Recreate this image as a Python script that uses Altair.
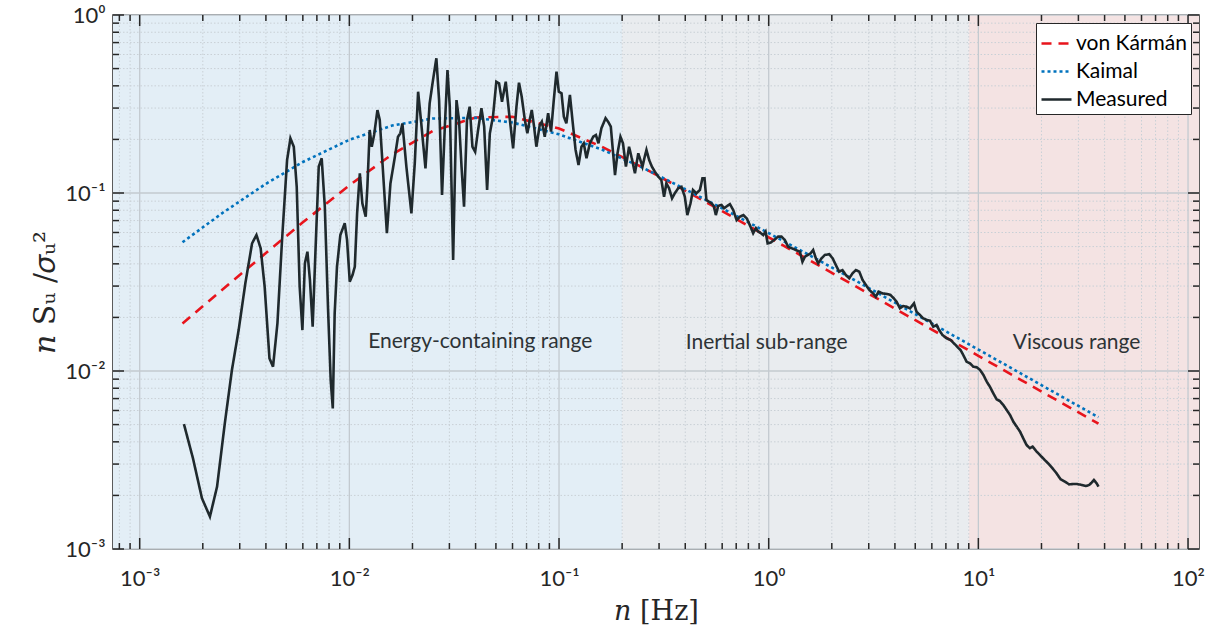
import altair as alt
import pandas as pd

# ---------------- data ----------------
model_n = [0.0016, 0.0025, 0.004, 0.006, 0.01, 0.016, 0.025, 0.04, 0.06, 0.1, 0.16,
           0.25, 0.4, 0.6, 1.0, 1.6, 2.5, 4.0, 6.0, 10.0, 16.0, 25.0, 37.4]
von_karman = [0.0185, 0.0289, 0.0460, 0.0684, 0.1105, 0.1649, 0.2228, 0.2657, 0.2680,
              0.2305, 0.1819, 0.1393, 0.1032, 0.0791, 0.0564, 0.0413, 0.0307, 0.0224,
              0.0171, 0.01217, 0.0089, 0.00661, 0.00506]
kaimal = [0.0529, 0.0777, 0.1126, 0.1493, 0.1991, 0.2392, 0.2621, 0.2643, 0.2487,
          0.2137, 0.1755, 0.139, 0.105, 0.082, 0.0595, 0.0441, 0.0330, 0.0242,
          0.0185, 0.0132, 0.00966, 0.00718, 0.0055]

# measured spectrum, read as decimal exponents (log10 n, log10 nS/sigma^2)
measured_log10_n = [
    -2.789, -2.746, -2.703, -2.665, -2.631, -2.594, -2.560, -2.528, -2.496, -2.464,
    -2.443, -2.423, -2.404, -2.381, -2.364, -2.343, -2.321, -2.297, -2.281, -2.265,
    -2.251, -2.237, -2.224, -2.212, -2.200, -2.188, -2.175, -2.162, -2.146, -2.132,
    -2.117, -2.102, -2.089, -2.079, -2.070, -2.059, -2.043, -2.022, -2.011, -1.998,
    -1.985, -1.974, -1.963, -1.950, -1.938, -1.922, -1.914, -1.903, -1.893, -1.882,
    -1.866, -1.855, -1.839, -1.821, -1.804, -1.784, -1.768, -1.757, -1.747, -1.728,
    -1.704, -1.688, -1.672, -1.657, -1.637, -1.617, -1.601, -1.585, -1.572, -1.558,
    -1.544, -1.532, -1.521, -1.505, -1.489, -1.477, -1.465, -1.453, -1.439, -1.426,
    -1.413, -1.400, -1.386, -1.370, -1.357, -1.343, -1.330, -1.315, -1.299, -1.286,
    -1.272, -1.254, -1.238, -1.219, -1.203, -1.191, -1.178, -1.163, -1.151, -1.140,
    -1.130, -1.119, -1.108, -1.092, -1.082, -1.068, -1.052, -1.038, -1.025, -1.012,
    -1.001, -0.988, -0.977, -0.965, -0.948, -0.936, -0.921, -0.907, -0.893, -0.882,
    -0.869, -0.853, -0.837, -0.824, -0.812, -0.798, -0.778, -0.766, -0.753, -0.742,
    -0.733, -0.721, -0.707, -0.695, -0.681, -0.666, -0.653, -0.638, -0.622, -0.602,
    -0.593, -0.583, -0.570, -0.557, -0.543, -0.527, -0.512, -0.499, -0.488, -0.475,
    -0.461, -0.448, -0.432, -0.416, -0.400, -0.388, -0.373, -0.361, -0.345, -0.328,
    -0.316, -0.306, -0.297, -0.285, -0.273, -0.262, -0.252, -0.241, -0.225, -0.213,
    -0.198, -0.185, -0.169, -0.153, -0.137, -0.121, -0.105, -0.090, -0.074, -0.061,
    -0.050, -0.037, -0.026, -0.015, -0.005, 0.009, 0.026, 0.045, 0.061, 0.077,
    0.093, 0.109, 0.125, 0.149, 0.161, 0.173, 0.188, 0.200, 0.212, 0.225,
    0.236, 0.252, 0.268, 0.289, 0.305, 0.320, 0.336, 0.352, 0.368, 0.384,
    0.400, 0.416, 0.432, 0.448, 0.464, 0.480, 0.498, 0.511, 0.524, 0.543,
    0.562, 0.581, 0.597, 0.610, 0.626, 0.641, 0.658, 0.674, 0.693, 0.705,
    0.721, 0.737, 0.753, 0.769, 0.785, 0.801, 0.813, 0.829, 0.848, 0.868,
    0.888, 0.904, 0.915, 0.928, 0.944, 0.960, 0.976, 0.992, 1.008, 1.024,
    1.040, 1.055, 1.071, 1.087, 1.103, 1.119, 1.135, 1.151, 1.167, 1.183,
    1.199, 1.214, 1.230, 1.246, 1.259, 1.278, 1.294, 1.313, 1.333, 1.354,
    1.373, 1.392, 1.413, 1.433, 1.452, 1.471, 1.492, 1.513, 1.529, 1.540,
    1.551, 1.564, 1.573]
measured_log10_S = [
    -2.298, -2.490, -2.715, -2.818, -2.650, -2.294, -1.994, -1.770, -1.507, -1.283,
    -1.236, -1.311, -1.526, -1.929, -1.976, -1.732, -1.264, -0.815, -0.693, -0.740,
    -0.965, -1.526, -1.770, -1.395, -1.330, -1.489, -1.751, -1.339, -0.852, -0.805,
    -1.077, -1.639, -2.051, -2.210, -1.676, -1.414, -1.236, -1.170, -1.264, -1.498,
    -1.461, -1.414, -1.114, -0.889, -1.058, -1.133, -0.965, -0.646, -0.740, -0.674,
    -0.534, -0.590, -0.889, -1.226, -0.946, -0.805, -0.684, -0.665, -0.609, -0.852,
    -1.114, -0.833, -0.431, -0.609, -0.862, -0.496, -0.365, -0.243, -0.478, -1.011,
    -0.609, -0.309, -0.515, -1.376, -0.478, -0.590, -0.852, -1.077, -0.590, -0.515,
    -0.740, -0.768, -0.646, -0.524, -0.627, -0.983, -0.665, -0.571, -0.375, -0.384,
    -0.487, -0.375, -0.552, -0.749, -0.515, -0.380, -0.459, -0.590, -0.665, -0.590,
    -0.534, -0.627, -0.740, -0.618, -0.599, -0.684, -0.552, -0.655, -0.478, -0.318,
    -0.431, -0.440, -0.571, -0.609, -0.449, -0.590, -0.758, -0.843, -0.740, -0.721,
    -0.805, -0.721, -0.684, -0.674, -0.721, -0.637, -0.580, -0.599, -0.627, -0.777,
    -0.899, -0.777, -0.684, -0.721, -0.852, -0.740, -0.805, -0.889, -0.777, -0.852,
    -0.805, -0.758, -0.815, -0.852, -0.880, -0.908, -0.927, -1.021, -0.946, -0.974,
    -1.030, -1.002, -0.974, -0.965, -1.021, -1.124, -1.058, -0.983, -1.002, -0.983,
    -0.917, -0.917, -1.039, -1.049, -1.058, -1.073, -1.124, -1.073, -1.067, -1.086,
    -1.073, -1.062, -1.096, -1.152, -1.133, -1.124, -1.142, -1.180, -1.226, -1.198,
    -1.217, -1.226, -1.236, -1.217, -1.283, -1.279, -1.264, -1.245, -1.245, -1.264,
    -1.302, -1.310, -1.318, -1.330, -1.386, -1.358, -1.348, -1.339, -1.320, -1.367,
    -1.395, -1.367, -1.348, -1.344, -1.367, -1.404, -1.442, -1.433, -1.461, -1.479,
    -1.451, -1.433, -1.442, -1.489, -1.517, -1.545, -1.564, -1.583, -1.554, -1.564,
    -1.567, -1.573, -1.592, -1.611, -1.648, -1.635, -1.639, -1.648, -1.620, -1.667,
    -1.685, -1.704, -1.713, -1.717, -1.751, -1.742, -1.770, -1.798, -1.816, -1.826,
    -1.850, -1.870, -1.882, -1.910, -1.948, -1.957, -1.976, -1.979, -1.994, -2.022,
    -2.060, -2.088, -2.125, -2.159, -2.169, -2.191, -2.219, -2.247, -2.285, -2.313,
    -2.341, -2.378, -2.416, -2.434, -2.425, -2.453, -2.472, -2.496, -2.519, -2.547,
    -2.575, -2.608, -2.622, -2.637, -2.635, -2.635, -2.640, -2.646, -2.640, -2.627,
    -2.612, -2.631, -2.650]

series_names = ["von Kármán", "Kaimal", "Measured"]

region_start = [7.46e-4, 0.2, 9.0]
region_end = [0.2, 9.0, 112.8]
region_fill = ["#e3eef6", "#e9ecef", "#f4e3e3"]
region_labels = ["Energy-containing range", "Inertial sub-range", "Viscous range"]
region_label_n = [0.0421, 0.978, 29.4]
region_label_S = [0.0146, 0.0144, 0.0143]

x_domain = [7.46e-4, 112.8]
y_domain = [1e-3, 1.0]
x_major = [1e-3, 1e-2, 1e-1, 1.0, 10.0, 100.0]
x_minor = [8e-4, 9e-4] + [k * 10.0 ** d for d in (-3, -2, -1, 0, 1) for k in range(2, 10)]
y_major = [1e-3, 1e-2, 1e-1, 1.0]
y_minor = [k * 10.0 ** d for d in (-3, -2, -1) for k in range(2, 10)]

# ---------------- layout ----------------
W, H = 1086, 534
AX = "#262626"
xs = alt.Scale(type="log", domain=x_domain, nice=False)
ys = alt.Scale(type="log", domain=y_domain, nice=False)

sup_expr = ("'10' + (datum.value < 0.9 ? '\u207b' : '') + "
            "['\u2070','\u00b9','\u00b2','\u00b3'][abs(round(log(datum.value)/LN10))]")

x_axis = alt.Axis(
    values=x_major, labelExpr=sup_expr, grid=False, ticks=False, domain=False,
    labelFont="Lato", labelFontSize=22, labelColor=AX, labelPadding=19,
    title="\U0001D45B [Hz]", titleFont="DejaVu Serif", titleFontSize=27,
    titleFontWeight="normal", titleColor=AX, titleY=62, titleBaseline="middle")
y_axis = alt.Axis(
    values=y_major, labelExpr=sup_expr, grid=False, ticks=False, domain=False,
    labelFont="Lato", labelFontSize=22, labelColor=AX, labelPadding=8,
    title="\U0001D45B S\u1d64 /\U0001D70E\u1d64\u00b2", titleFont="DejaVu Serif",
    titleFontSize=30, titleFontWeight="normal", titleColor=AX,
    titleX=-68, titleY=H / 2 + 10, titleAngle=-90, titleBaseline="middle",
    titleAlign="center")

def X(field):
    return alt.X(field, scale=xs, axis=x_axis)

def Y(field):
    return alt.Y(field, scale=ys, axis=y_axis)

lines_df = pd.concat([
    pd.DataFrame({"n": model_n, "S": von_karman, "series": "von Kármán"}),
    pd.DataFrame({"n": model_n, "S": kaimal, "series": "Kaimal"}),
    pd.DataFrame({"n": [10 ** v for v in measured_log10_n],
                  "S": [10 ** v for v in measured_log10_S], "series": "Measured"}),
])

regions_df = pd.DataFrame({"n0": region_start, "n1": region_end, "fill": region_fill})
labels_df = pd.DataFrame({"n": region_label_n, "S": region_label_S, "text": region_labels})

regions = alt.Chart(regions_df).mark_rect().encode(
    x=X("n0:Q"), x2="n1:Q",
    y=alt.value(0), y2=alt.value(H),
    color=alt.Color("fill:N", scale=None),
)

def vgrid(vals, color, dash, width):
    return alt.Chart(pd.DataFrame({"n": vals})).mark_rule(
        color=color, strokeDash=dash, strokeWidth=width).encode(x=X("n:Q"))

def hgrid(vals, color, dash, width):
    return alt.Chart(pd.DataFrame({"S": vals})).mark_rule(
        color=color, strokeDash=dash, strokeWidth=width).encode(y=Y("S:Q"))

minor_grid = [vgrid(x_minor, "#c9d0d6", [1.5, 2], 1), hgrid(y_minor, "#c9d0d6", [1.5, 2], 1)]
major_grid = [vgrid(x_major, "#c3cad0", [1, 0], 1.3), hgrid(y_major, "#c3cad0", [1, 0], 1.3)]

lines = alt.Chart(lines_df).mark_line().encode(
    x=X("n:Q"),
    y=Y("S:Q"),
    color=alt.Color("series:N", sort=series_names, scale=alt.Scale(
        domain=series_names, range=["#e8141c", "#0072bd", "#1f292d"]),
        legend=alt.Legend(title=None)),
    strokeDash=alt.StrokeDash("series:N", sort=series_names, scale=alt.Scale(
        domain=series_names, range=[[10, 7], [3, 3], [1, 0]]),
        legend=alt.Legend(title=None)),
    strokeWidth=alt.StrokeWidth("series:N", sort=series_names, scale=alt.Scale(
        domain=series_names, range=[2.6, 2.6, 1.8]),
        legend=alt.Legend(title=None)),
    order=alt.Order("n:Q"),
)

texts = alt.Chart(labels_df).mark_text(
    font="Lato", fontSize=21, color="#2d3336", align="center", baseline="middle").encode(
    x=X("n:Q"), y=Y("S:Q"), text="text:N")

def xticks(vals, L):
    base = alt.Chart(pd.DataFrame({"n": vals})).mark_rule(color=AX, strokeWidth=1.5)
    b = base.encode(x=X("n:Q"), y=alt.value(H), y2=alt.value(H - L))
    t = base.encode(x=X("n:Q"), y=alt.value(0), y2=alt.value(L))
    return [b, t]

def yticks(vals, L):
    base = alt.Chart(pd.DataFrame({"S": vals})).mark_rule(color=AX, strokeWidth=1.5)
    l = base.encode(y=Y("S:Q"), x=alt.value(0), x2=alt.value(L))
    r = base.encode(y=Y("S:Q"), x=alt.value(W), x2=alt.value(W - L))
    return [l, r]

ticks = xticks(x_major, 11) + xticks(x_minor, 6) + yticks(y_major, 11) + yticks(y_minor, 6)

chart = alt.layer(regions, *minor_grid, *major_grid, lines, texts, *ticks).properties(
    width=W, height=H,
    autosize=alt.AutoSizeParams(type="none"),
    padding={"left": 113, "top": 15, "right": 13, "bottom": 81},
    background="white",
).configure_view(stroke=AX, strokeWidth=1.5).configure_legend(
    orient="top-right", offset=8, fillColor="white", strokeColor=AX,
    padding=4, labelFont="Lato", labelFontSize=21, labelColor="black",
    symbolType="stroke", symbolSize=900, rowPadding=1, labelOffset=3,
)

chart.save("out.html", embed_options={"renderer": "svg", "actions": False})
